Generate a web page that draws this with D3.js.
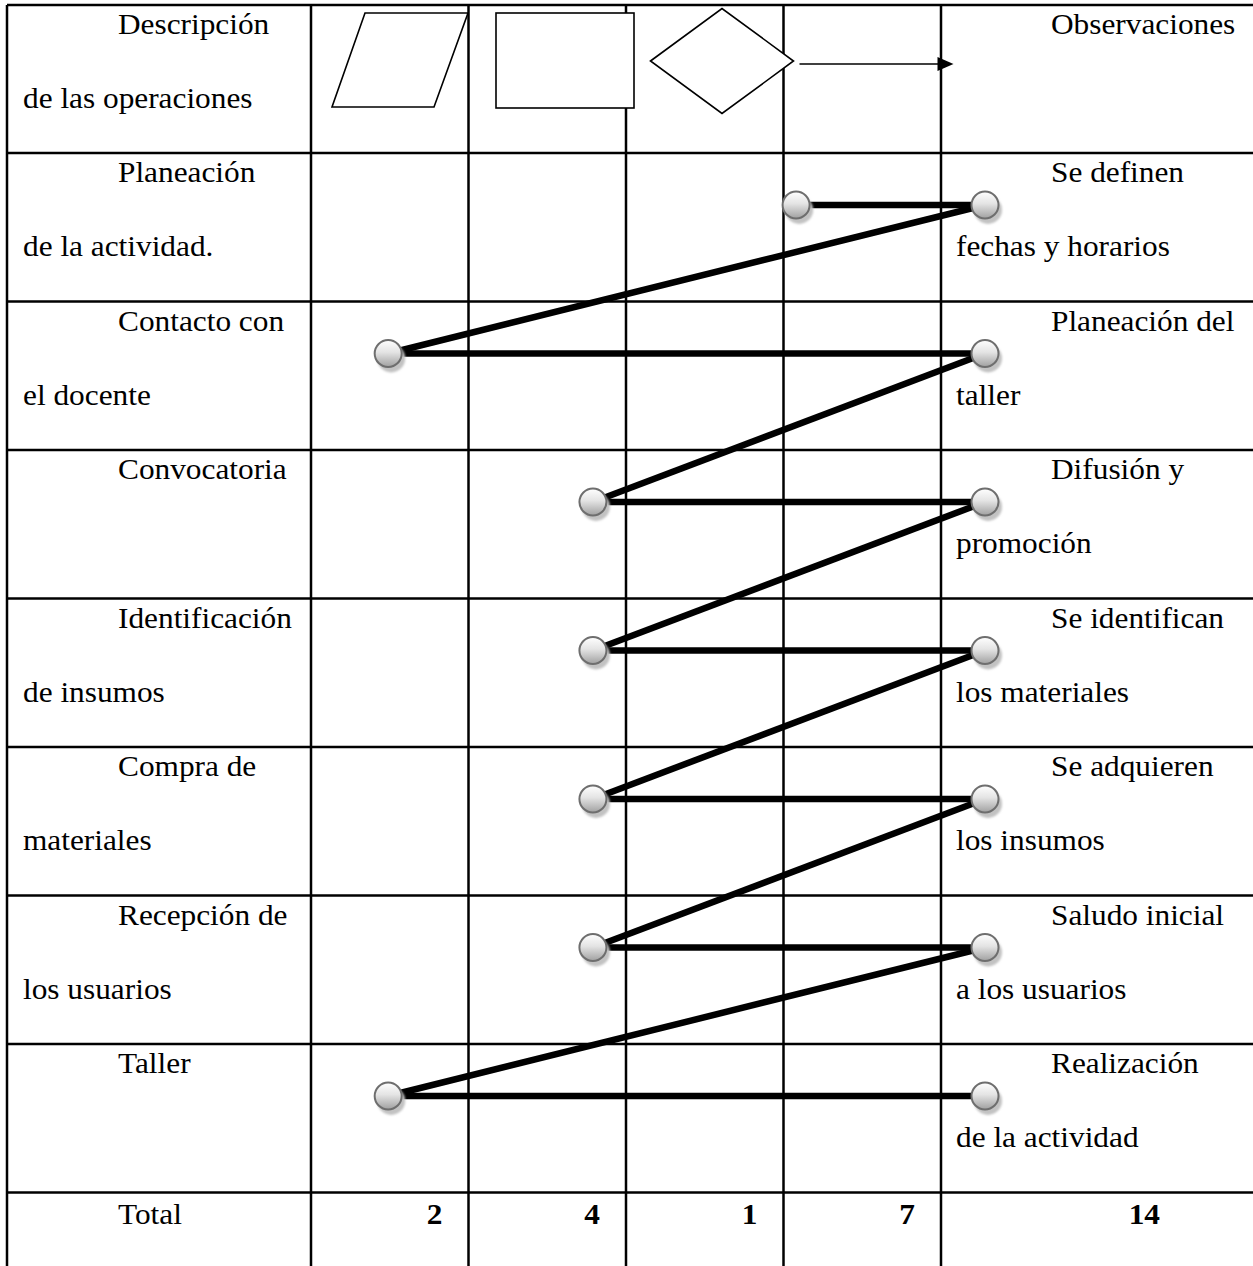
<!DOCTYPE html>
<html>
<head>
<meta charset="utf-8">
<script src="https://cdn.jsdelivr.net/npm/d3@7"></script>
<style>
  body { margin: 0; background: #fff; }
</style>
</head>
<body>
<script>
// data
var headerLeft = ["Descripción", "de las operaciones"];
var headerRight = ["Observaciones"];
var symbols = ["parallelogram", "rectangle", "diamond", "arrow"];

var operations = [
  ["Planeación", "de la actividad."],
  ["Contacto con", "el docente"],
  ["Convocatoria", ""],
  ["Identificación", "de insumos"],
  ["Compra de", "materiales"],
  ["Recepción de", "los usuarios"],
  ["Taller", ""]
];
var observations = [
  ["Se definen", "fechas y horarios"],
  ["Planeación del", "taller"],
  ["Difusión y", "promoción"],
  ["Se identifican", "los materiales"],
  ["Se adquieren", "los insumos"],
  ["Saludo inicial", "a los usuarios"],
  ["Realización", "de la actividad"]
];
// symbol each step is marked on
var stepSymbol = ["diamond", "parallelogram", "rectangle", "rectangle", "rectangle", "rectangle", "parallelogram"];
var totalLabel = "Total";
var totals = [2, 4, 1, 7, 14];

// layout
var W = 1253, H = 1266;
var gridLeft = 7, gridRight = W, gridTop = 5;
var firstColRight = 311, lastColLeft = 941;
var fs = 29;
var serif = "'Liberation Serif', 'Times New Roman', Times, serif";

var svg = d3.select("body").append("svg")
  .attr("width", W)
  .attr("height", H);

var defs = svg.append("defs");
var grad = defs.append("linearGradient")
  .attr("id", "ball")
  .attr("x1", 0).attr("y1", 0).attr("x2", 0).attr("y2", 1);
grad.append("stop").attr("offset", "0%").attr("stop-color", "#ffffff");
grad.append("stop").attr("offset", "45%").attr("stop-color", "#e4e4e4");
grad.append("stop").attr("offset", "100%").attr("stop-color", "#a0a0a0");
defs.append("filter").attr("id", "soft")
  .append("feGaussianBlur").attr("stdDeviation", 1);

// scales
var x = d3.scaleBand().domain(symbols).range([firstColRight, lastColLeft]);
var y = d3.scaleBand().domain(d3.range(operations.length)).range([153, 1192.5]);
var headerBottom = y.range()[0];
var totalTop = y.range()[1];

var lineW = 2.5;

// table grid
var grid = svg.append("g").attr("stroke", "#000").attr("stroke-width", lineW);
var hLines = [gridTop, headerBottom].concat(d3.range(operations.length).map(function(i) { return y(i) + y.bandwidth(); }));
grid.selectAll("line.h")
  .data(hLines)
  .enter().append("line")
  .attr("class", "h")
  .attr("x1", gridLeft).attr("x2", gridRight)
  .attr("y1", function(d) { return d; })
  .attr("y2", function(d) { return d; });

var vLines = [gridLeft, firstColRight].concat(symbols.slice(1).map(function(s) { return x(s); }), [lastColLeft]);
grid.selectAll("line.v")
  .data(vLines)
  .enter().append("line")
  .attr("class", "v")
  .attr("y1", gridTop).attr("y2", H)
  .attr("x1", function(d) { return d; })
  .attr("x2", function(d) { return d; });

// header symbols
var sym = svg.append("g").attr("fill", "#fff").attr("stroke", "#000").attr("stroke-width", 1.6);
var px = x("parallelogram");
sym.append("polygon")
  .attr("points", [[px + 54, 13], [px + 157, 13], [px + 123, 107], [px + 21, 107]].join(" "));
var rx = x("rectangle");
sym.append("rect")
  .attr("x", rx + 27.5).attr("y", 13)
  .attr("width", 138).attr("height", 95);
var dx = x("diamond") + 96, dy = 61;
sym.append("polygon")
  .attr("points", [[dx - 71.5, dy], [dx, dy - 52.5], [dx + 71.5, dy], [dx, dy + 52.5]].join(" "));
var ax = x("arrow");
sym.append("line")
  .attr("x1", ax + 16).attr("x2", ax + 156)
  .attr("y1", 64).attr("y2", 64);
svg.append("polygon")
  .attr("fill", "#000")
  .attr("points", [[ax + 154, 57], [ax + 170, 64], [ax + 154, 71]].join(" "));

// text helper: first line indented, second line at left
function cellText(g, lines, x0, rowTop) {
  var xs = [x0 + 111, x0 + 16];
  var ys = [rowTop + 29, rowTop + 103];
  lines.forEach(function(t, i) {
    if (!t) return;
    g.append("text")
      .attr("transform", "translate(" + xs[i] + "," + ys[i] + ") scale(1.08,1)")
      .attr("font-family", serif)
      .attr("font-size", fs)
      .attr("fill", "#000")
      .text(t);
  });
}

var txt = svg.append("g");
cellText(txt, headerLeft, gridLeft, gridTop);
cellText(txt, headerRight, lastColLeft - 1, gridTop);
operations.forEach(function(d, i) { cellText(txt, d, gridLeft, y(i)); });
observations.forEach(function(d, i) { cellText(txt, d, lastColLeft - 1, y(i)); });

// total row
txt.append("text")
  .attr("transform", "translate(" + (gridLeft + 111) + "," + (totalTop + 31) + ") scale(1.08,1)")
  .attr("font-family", serif)
  .attr("font-size", fs)
  .text(totalLabel);
var totalX = symbols.map(function(s) { return x(s) + x.bandwidth() - 26; }).concat([1160]);
txt.selectAll("text.total")
  .data(totals)
  .enter().append("text")
  .attr("class", "total")
  .attr("text-anchor", "end")
  .attr("transform", function(d, i) { return "translate(" + totalX[i] + "," + (totalTop + 31) + ") scale(1.08,1)"; })
  .attr("font-family", serif)
  .attr("font-size", fs)
  .attr("font-weight", "bold")
  .text(function(d) { return d; });

// nodes
var nodeOffset = { parallelogram: 0.49, rectangle: 0.79, diamond: 1.08, arrow: 0.5 };
var rowOffset = 0.35;
var opNodes = stepSymbol.map(function(s, i) {
  return { x: x(s) + x.bandwidth() * nodeOffset[s], y: y(i) + y.bandwidth() * rowOffset };
});
var obsNodes = observations.map(function(d, i) {
  return { x: lastColLeft + 44, y: y(i) + y.bandwidth() * rowOffset };
});

var segs = [];
opNodes.forEach(function(n, i) {
  segs.push([n, obsNodes[i]]);
  if (i < opNodes.length - 1) segs.push([obsNodes[i], opNodes[i + 1]]);
});

svg.append("g").selectAll("line")
  .data(segs)
  .enter().append("line")
  .attr("stroke", "#000")
  .attr("stroke-width", 6.5)
  .attr("x1", function(d) { return d[0].x; })
  .attr("y1", function(d) { return d[0].y; })
  .attr("x2", function(d) { return d[1].x; })
  .attr("y2", function(d) { return d[1].y; });

var allNodes = opNodes.concat(obsNodes);
var balls = svg.append("g").selectAll("g")
  .data(allNodes)
  .enter().append("g")
  .attr("transform", function(d) { return "translate(" + d.x + "," + d.y + ")"; });
balls.append("circle")
  .attr("cx", 3).attr("cy", 5).attr("r", 14)
  .attr("fill", "#c2c2c2")
  .attr("filter", "url(#soft)");
balls.append("circle")
  .attr("r", 13.5)
  .attr("fill", "url(#ball)")
  .attr("stroke", "#6e6e6e")
  .attr("stroke-width", 2);
</script>
</body>
</html>
